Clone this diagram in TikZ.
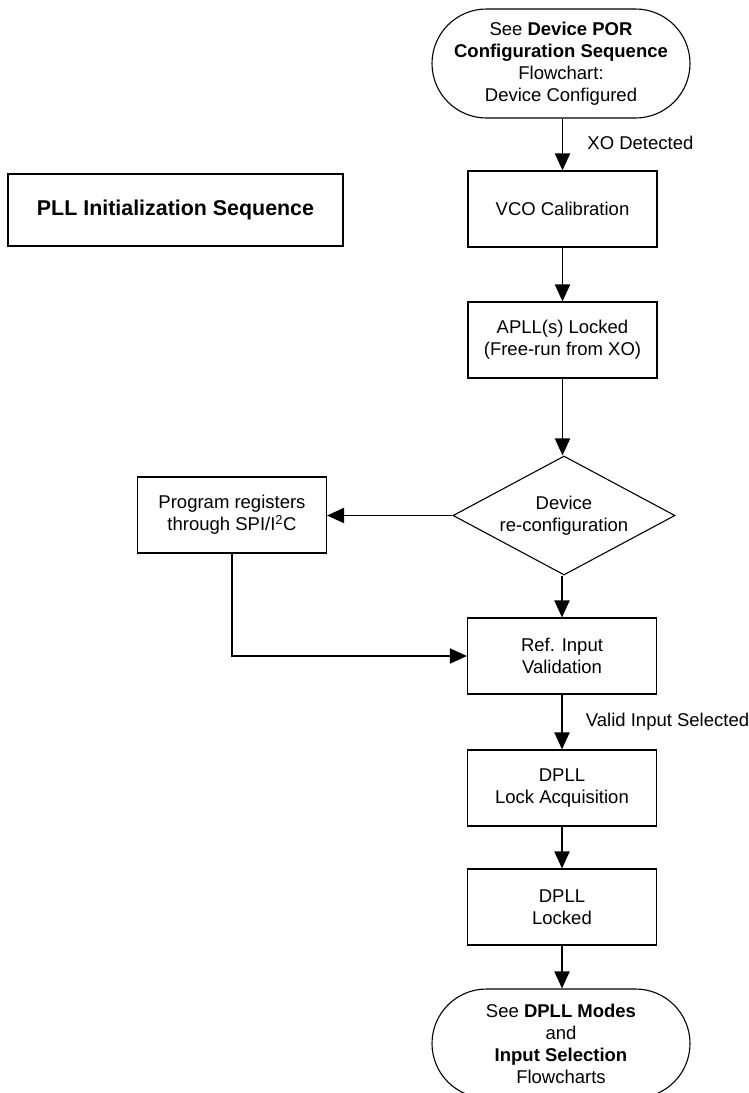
\documentclass[tikz,border=0pt]{standalone}
\usepackage{fontspec}
\setmainfont{Liberation Sans}
\usetikzlibrary{arrows.meta,shapes.geometric,shapes.misc}
\begin{document}
\begin{tikzpicture}[x=1pt,y=-1pt,
  font=\fontsize{18.5}{22}\selectfont,
  box/.style={draw,line width=1.1pt,minimum width=189pt,minimum height=76pt,inner sep=0pt,align=center},
  term/.style={draw,line width=1.1pt,rounded rectangle,minimum width=258pt,minimum height=109pt,inner sep=0pt,align=center},
  decide/.style={draw,line width=1.1pt,diamond,minimum width=222pt,minimum height=119pt,inner sep=0pt,aspect=1.85,align=center},
  titlebox/.style={draw,line width=1.5pt,minimum width=335pt,minimum height=72pt,inner sep=0pt,font=\fontsize{21.4}{25}\selectfont\bfseries},
  arr/.style={line width=1.9pt,-{Triangle[length=17pt,width=15pt]}},
  lbl/.style={anchor=west,inner sep=0pt}]
\useasboundingbox (0,0) rectangle (749,1093);
\clip (0,0) rectangle (749,1093);

\node[titlebox] (title) at (175.5,210) {PLL Initialization Sequence};

\node[term] (start) at (561,63.5) {See \textbf{Device POR}\\\textbf{Configuration Sequence}\\Flowchart:\\Device Configured};
\node[box] (vco) at (562.5,209) {VCO Calibration};
\node[box] (apll) at (562.5,340) {APLL(s) Locked\\(Free-run from XO)};
\node[decide] (dec) at (564,515.5) {Device\\re-configuration};
\node[box] (prog) at (232,515) {Program registers\\through SPI/I\textsuperscript{2}C};
\node[box] (ref) at (562,656) {Ref. Input\\Validation};
\node[box] (acq) at (562,788) {DPLL\\Lock Acquisition};
\node[box] (locked) at (562,907) {DPLL\\Locked};
\node[term] (end) at (561,1043.5) {See \textbf{DPLL Modes}\\and\\\textbf{Input Selection}\\Flowcharts};

\draw[arr] (start.south -| vco.north) -- node[lbl,pos=0.47,xshift=24pt] (xo) {XO Detected} (vco.north);
\draw[arr] (vco) -- (apll);
\draw[arr] (apll.south) -- (apll.south |- dec.north);
\draw[arr] (dec.west) -- (dec.west -| prog.east);
\draw[arr] (dec.south -| ref.north) -- (ref.north);
\draw[arr] (prog.south) |- (ref.west);
\draw[arr] (ref) -- node[lbl,pos=0.5,xshift=23pt] (valid) {Valid Input Selected} (acq);
\draw[arr] (acq) -- (locked);
\draw[arr] (locked.south) -- (locked.south |- end.north);
\end{tikzpicture}
\end{document}
